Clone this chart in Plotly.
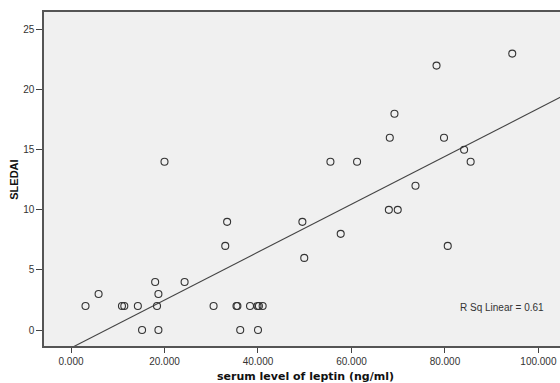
import numpy as np
import plotly.graph_objects as go

# serum leptin (ng/ml) and SLEDAI score
leptin = [3.1, 5.9, 10.9, 11.4, 14.3, 15.2, 18.0, 18.7, 18.4, 18.7, 24.3, 30.5,
          33.0, 33.4, 35.4, 35.6, 36.2, 38.3, 39.9, 40.2, 41.0, 40.0, 20.0,
          94.4, 78.2, 69.2, 68.2, 79.8, 55.5, 61.2, 84.1, 85.5, 73.7, 49.5,
          68.0, 69.9, 57.7, 49.9, 80.6]
sledai = [2, 3, 2, 2, 2, 0, 4, 3, 2, 0, 4, 2,
          7, 9, 2, 2, 0, 2, 2, 2, 2, 0, 14,
          23, 22, 18, 16, 16, 14, 14, 15, 14, 12, 9,
          10, 10, 8, 6, 7]

x_ticks = [0, 20, 40, 60, 80, 100]
y_ticks = [0, 5, 10, 15, 20, 25]
r_sq_label = "R Sq Linear = 0.61"
x_title = "serum level of leptin (ng/ml)"
y_title = "SLEDAI"

x_range = [-5.78, 105.9]
y_range = [-1.33, 26.46]

slope, intercept = np.polyfit(leptin, sledai, 1)
line_x = np.array(x_range)
line_y = slope * line_x + intercept

fig = go.Figure()
fig.add_trace(go.Scatter(
    x=line_x, y=line_y, mode="lines",
    line=dict(color="#444444", width=1.1),
    hoverinfo="skip", showlegend=False))
fig.add_trace(go.Scatter(
    x=leptin, y=sledai, mode="markers",
    marker=dict(symbol="circle-open", size=7, color="#333333",
                line=dict(width=1.1, color="#333333")),
    showlegend=False))

fig.add_annotation(
    x=0.878, y=0.115, xref="paper", yref="paper", text=r_sq_label,
    showarrow=False, font=dict(family="Liberation Sans, Arial", size=10, color="#333333"),
    xanchor="center", yanchor="middle")
fig.add_annotation(
    x=0.5, y=-0.09, xref="paper", yref="paper", text="<b>" + x_title + "</b>",
    showarrow=False, font=dict(family="DejaVu Sans", size=11, color="#111111"),
    xanchor="center", yanchor="middle")
fig.add_annotation(
    x=-0.058, y=0.497, xref="paper", yref="paper", text="<b>" + y_title + "</b>",
    showarrow=False, textangle=-90,
    font=dict(family="Liberation Sans, Arial", size=11, color="#111111"),
    xanchor="center", yanchor="middle")

# plot frame runs slightly past the right edge of the window, as in the reference
fig.update_layout(
    width=566, height=383,
    margin=dict(l=44, r=0, t=12, b=37),
    paper_bgcolor="white", plot_bgcolor="#F0F0F0",
    font=dict(family="Liberation Sans, Arial", size=10, color="#333333"),
)
fig.update_xaxes(
    range=x_range, tickvals=x_ticks, tickformat=".3f", automargin=False,
    ticks="outside", ticklen=5, tickcolor="#444444", tickwidth=1,
    showgrid=False, zeroline=False,
    showline=True, linecolor="#555555", linewidth=1.5, mirror=True,
    tickfont=dict(family="Liberation Sans, Arial", size=10, color="#333333"),
)
fig.update_yaxes(
    range=y_range, tickvals=y_ticks, automargin=False,
    ticks="outside", ticklen=6, tickcolor="#444444", tickwidth=1,
    showgrid=False, zeroline=False,
    showline=True, linecolor="#555555", linewidth=1.5, mirror=True,
    tickfont=dict(family="Liberation Sans, Arial", size=10, color="#333333"),
)
fig.write_html(
    "out.html",
    config={"displayModeBar": False},
    post_script="document.body.style.margin='0';document.body.style.overflow='hidden';",
)
